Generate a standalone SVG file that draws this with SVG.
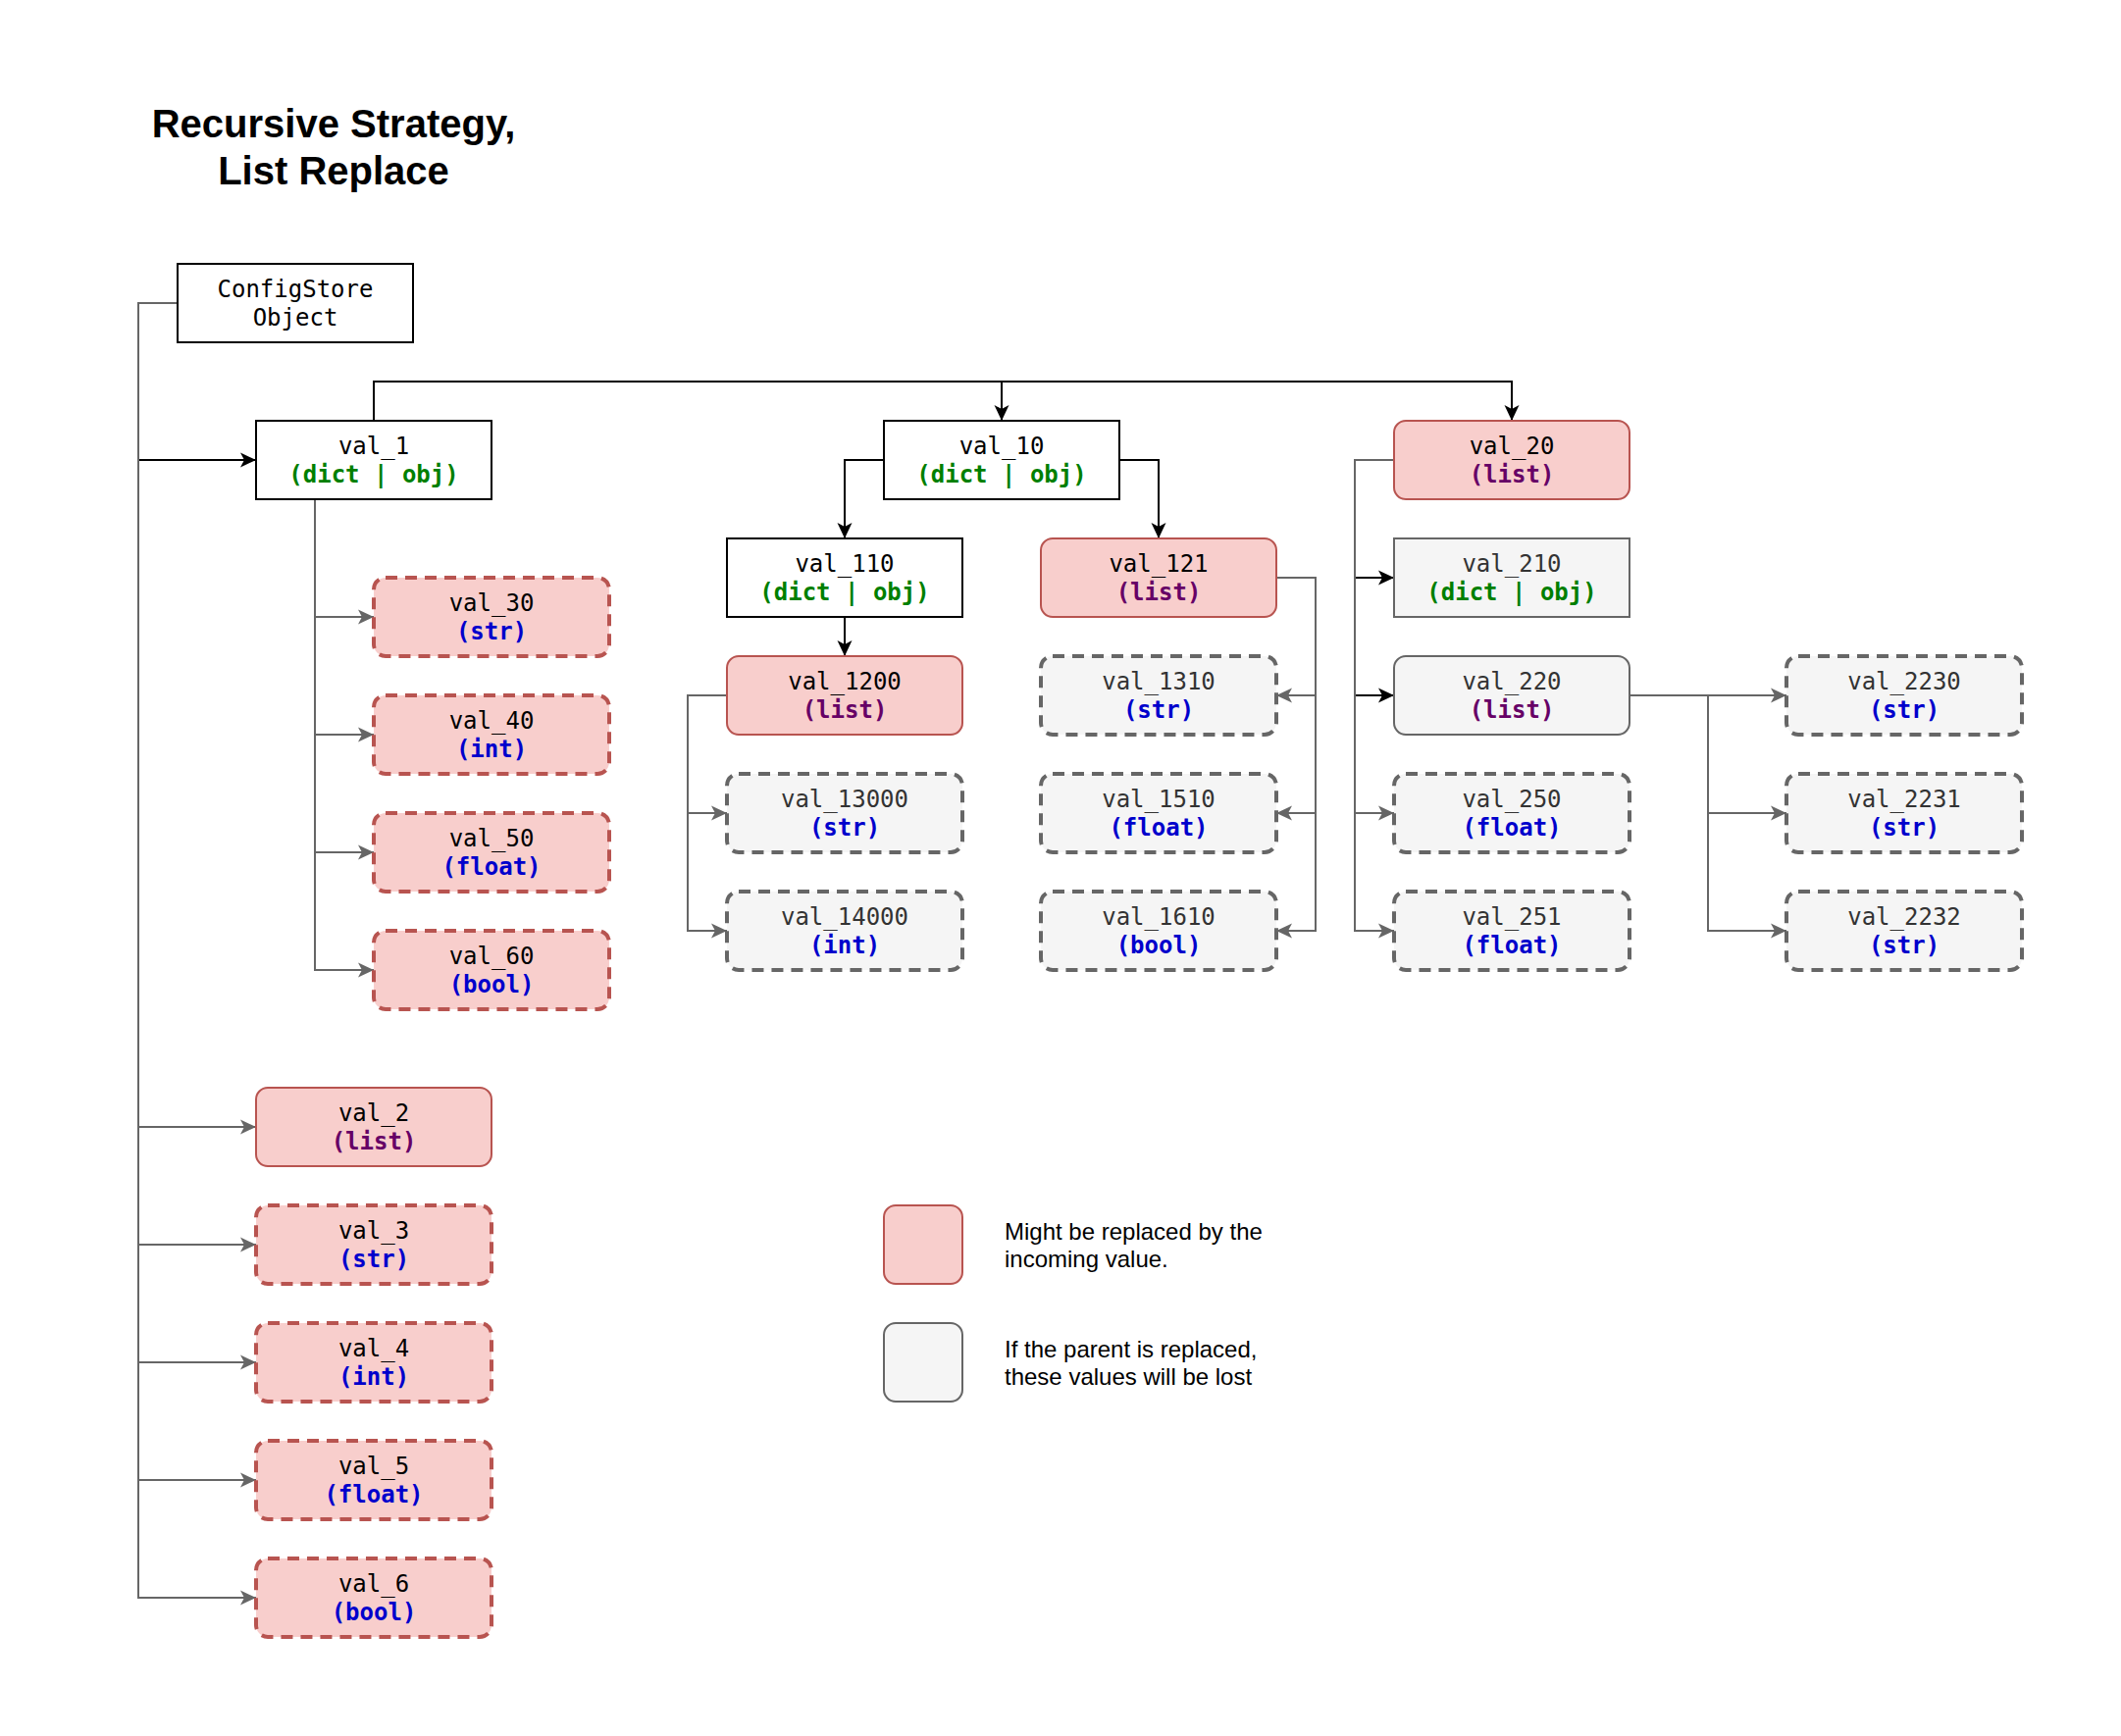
<svg xmlns="http://www.w3.org/2000/svg" width="2162" height="1770" viewBox="0 0 2162 1770">
  <style>
    .title { font-family: "Liberation Sans", Arial, sans-serif; font-size: 40px; font-weight: bold; fill: #000; text-anchor: middle; }
    .legend { font-family: "Liberation Sans", Arial, sans-serif; font-size: 24px; fill: #000; }
    .lbl { font-family: "DejaVu Sans Mono", monospace; font-size: 24px; text-anchor: middle; }
    .name { fill: #000; }
    .name-g { fill: #333333; }
    .t-dict { fill: #007f00; font-weight: bold; }
    .t-list { fill: #660066; font-weight: bold; }
    .t-val { fill: #0000cc; font-weight: bold; }
    .plain { fill: #ffffff; stroke: #000; stroke-width: 2; }
    .red { fill: #f8cecc; stroke: #b85450; stroke-width: 2; }
    .red-dash { fill: #f8cecc; stroke: #b85450; stroke-width: 4; stroke-dasharray: 12 8; }
    .grey { fill: #f5f5f5; stroke: #666666; stroke-width: 2; }
    .grey-dash { fill: #f5f5f5; stroke: #666666; stroke-width: 4; stroke-dasharray: 12 8; }
    .e-black { fill: none; stroke: #000; stroke-width: 2; }
    .e-grey { fill: none; stroke: #666666; stroke-width: 2; }
    .e-black.arr { marker-end: url(#arrow-black); }
    .e-grey.arr { marker-end: url(#arrow-grey); }
  </style>
  <defs>
    <marker id="arrow-black" markerUnits="userSpaceOnUse" viewBox="-17 -9 18 18" markerWidth="18" markerHeight="18" refX="0" refY="0" orient="auto">
      <path d="M0,0 L-16,-7.5 L-12,0 L-16,7.5 Z" fill="#000"/>
    </marker>
    <marker id="arrow-grey" markerUnits="userSpaceOnUse" viewBox="-17 -9 18 18" markerWidth="18" markerHeight="18" refX="0" refY="0" orient="auto">
      <path d="M0,0 L-16,-7.5 L-12,0 L-16,7.5 Z" fill="#666666"/>
    </marker>
  </defs>

  <rect x="0" y="0" width="2162" height="1770" fill="#ffffff"/>

  <text class="title" x="340" y="140">Recursive Strategy,</text>
  <text class="title" x="340" y="188">List Replace</text>

  <!-- connectors -->
  <g id="connectors">
    <!-- black edges -->
    <path class="e-black arr" d="M141,469 H261"/>
    <path class="e-black arr" d="M381,429 V389 H1541 V429"/>
    <path class="e-black arr" d="M1021,389 V429"/>
    <path class="e-black arr" d="M901,469 H861 V549"/>
    <path class="e-black arr" d="M1141,469 H1181 V549"/>
    <path class="e-black arr" d="M861,629 V669"/>
    <path class="e-black arr" d="M1381,589 H1421"/>
    <path class="e-black arr" d="M1381,709 H1421"/>

    <!-- ConfigStore trunk -->
    <path class="e-grey arr" d="M181,309 H141 V1629 H261"/>
    <path class="e-grey arr" d="M141,1149 H261"/>
    <path class="e-grey arr" d="M141,1269 H261"/>
    <path class="e-grey arr" d="M141,1389 H261"/>
    <path class="e-grey arr" d="M141,1509 H261"/>

    <!-- val_1 children -->
    <path class="e-grey arr" d="M321,509 V989 H381"/>
    <path class="e-grey arr" d="M321,629 H381"/>
    <path class="e-grey arr" d="M321,749 H381"/>
    <path class="e-grey arr" d="M321,869 H381"/>

    <!-- val_1200 children -->
    <path class="e-grey arr" d="M741,709 H701 V949 H741"/>
    <path class="e-grey arr" d="M701,829 H741"/>

    <!-- val_121 children -->
    <path class="e-grey arr" d="M1301,589 H1341 V949 H1301"/>
    <path class="e-grey arr" d="M1341,709 H1301"/>
    <path class="e-grey arr" d="M1341,829 H1301"/>

    <!-- val_20 children -->
    <path class="e-grey arr" d="M1421,469 H1381 V949 H1421"/>
    <path class="e-grey arr" d="M1381,829 H1421"/>

    <!-- val_220 children -->
    <path class="e-grey arr" d="M1661,709 H1821"/>
    <path class="e-grey arr" d="M1741,709 V949 H1821"/>
    <path class="e-grey arr" d="M1741,829 H1821"/>
  </g>

  <!-- nodes -->
  <g id="configstore">
    <rect class="plain" x="181" y="269" width="240" height="80"/>
    <text class="lbl name" x="301" y="303">ConfigStore</text>
    <text class="lbl name" x="301" y="332">Object</text>
  </g>

  <g id="val_1">
    <rect class="plain" x="261" y="429" width="240" height="80"/>
    <text class="lbl name" x="381" y="463">val_1</text>
    <text class="lbl t-dict" x="381" y="492">(dict | obj)</text>
  </g>
  <g id="val_10">
    <rect class="plain" x="901" y="429" width="240" height="80"/>
    <text class="lbl name" x="1021" y="463">val_10</text>
    <text class="lbl t-dict" x="1021" y="492">(dict | obj)</text>
  </g>
  <g id="val_20">
    <rect class="red" x="1421" y="429" width="240" height="80" rx="12"/>
    <text class="lbl name" x="1541" y="463">val_20</text>
    <text class="lbl t-list" x="1541" y="492">(list)</text>
  </g>

  <g id="val_30">
    <rect class="red-dash" x="381" y="589" width="240" height="80" rx="12"/>
    <text class="lbl name" x="501" y="623">val_30</text>
    <text class="lbl t-val" x="501" y="652">(str)</text>
  </g>
  <g id="val_40">
    <rect class="red-dash" x="381" y="709" width="240" height="80" rx="12"/>
    <text class="lbl name" x="501" y="743">val_40</text>
    <text class="lbl t-val" x="501" y="772">(int)</text>
  </g>
  <g id="val_50">
    <rect class="red-dash" x="381" y="829" width="240" height="80" rx="12"/>
    <text class="lbl name" x="501" y="863">val_50</text>
    <text class="lbl t-val" x="501" y="892">(float)</text>
  </g>
  <g id="val_60">
    <rect class="red-dash" x="381" y="949" width="240" height="80" rx="12"/>
    <text class="lbl name" x="501" y="983">val_60</text>
    <text class="lbl t-val" x="501" y="1012">(bool)</text>
  </g>

  <g id="val_110">
    <rect class="plain" x="741" y="549" width="240" height="80"/>
    <text class="lbl name" x="861" y="583">val_110</text>
    <text class="lbl t-dict" x="861" y="612">(dict | obj)</text>
  </g>
  <g id="val_1200">
    <rect class="red" x="741" y="669" width="240" height="80" rx="12"/>
    <text class="lbl name" x="861" y="703">val_1200</text>
    <text class="lbl t-list" x="861" y="732">(list)</text>
  </g>
  <g id="val_13000">
    <rect class="grey-dash" x="741" y="789" width="240" height="80" rx="12"/>
    <text class="lbl name-g" x="861" y="823">val_13000</text>
    <text class="lbl t-val" x="861" y="852">(str)</text>
  </g>
  <g id="val_14000">
    <rect class="grey-dash" x="741" y="909" width="240" height="80" rx="12"/>
    <text class="lbl name-g" x="861" y="943">val_14000</text>
    <text class="lbl t-val" x="861" y="972">(int)</text>
  </g>

  <g id="val_121">
    <rect class="red" x="1061" y="549" width="240" height="80" rx="12"/>
    <text class="lbl name" x="1181" y="583">val_121</text>
    <text class="lbl t-list" x="1181" y="612">(list)</text>
  </g>
  <g id="val_1310">
    <rect class="grey-dash" x="1061" y="669" width="240" height="80" rx="12"/>
    <text class="lbl name-g" x="1181" y="703">val_1310</text>
    <text class="lbl t-val" x="1181" y="732">(str)</text>
  </g>
  <g id="val_1510">
    <rect class="grey-dash" x="1061" y="789" width="240" height="80" rx="12"/>
    <text class="lbl name-g" x="1181" y="823">val_1510</text>
    <text class="lbl t-val" x="1181" y="852">(float)</text>
  </g>
  <g id="val_1610">
    <rect class="grey-dash" x="1061" y="909" width="240" height="80" rx="12"/>
    <text class="lbl name-g" x="1181" y="943">val_1610</text>
    <text class="lbl t-val" x="1181" y="972">(bool)</text>
  </g>

  <g id="val_210">
    <rect class="grey" x="1421" y="549" width="240" height="80"/>
    <text class="lbl name-g" x="1541" y="583">val_210</text>
    <text class="lbl t-dict" x="1541" y="612">(dict | obj)</text>
  </g>
  <g id="val_220">
    <rect class="grey" x="1421" y="669" width="240" height="80" rx="12"/>
    <text class="lbl name-g" x="1541" y="703">val_220</text>
    <text class="lbl t-list" x="1541" y="732">(list)</text>
  </g>
  <g id="val_250">
    <rect class="grey-dash" x="1421" y="789" width="240" height="80" rx="12"/>
    <text class="lbl name-g" x="1541" y="823">val_250</text>
    <text class="lbl t-val" x="1541" y="852">(float)</text>
  </g>
  <g id="val_251">
    <rect class="grey-dash" x="1421" y="909" width="240" height="80" rx="12"/>
    <text class="lbl name-g" x="1541" y="943">val_251</text>
    <text class="lbl t-val" x="1541" y="972">(float)</text>
  </g>

  <g id="val_2230">
    <rect class="grey-dash" x="1821" y="669" width="240" height="80" rx="12"/>
    <text class="lbl name-g" x="1941" y="703">val_2230</text>
    <text class="lbl t-val" x="1941" y="732">(str)</text>
  </g>
  <g id="val_2231">
    <rect class="grey-dash" x="1821" y="789" width="240" height="80" rx="12"/>
    <text class="lbl name-g" x="1941" y="823">val_2231</text>
    <text class="lbl t-val" x="1941" y="852">(str)</text>
  </g>
  <g id="val_2232">
    <rect class="grey-dash" x="1821" y="909" width="240" height="80" rx="12"/>
    <text class="lbl name-g" x="1941" y="943">val_2232</text>
    <text class="lbl t-val" x="1941" y="972">(str)</text>
  </g>

  <g id="val_2">
    <rect class="red" x="261" y="1109" width="240" height="80" rx="12"/>
    <text class="lbl name" x="381" y="1143">val_2</text>
    <text class="lbl t-list" x="381" y="1172">(list)</text>
  </g>
  <g id="val_3">
    <rect class="red-dash" x="261" y="1229" width="240" height="80" rx="12"/>
    <text class="lbl name" x="381" y="1263">val_3</text>
    <text class="lbl t-val" x="381" y="1292">(str)</text>
  </g>
  <g id="val_4">
    <rect class="red-dash" x="261" y="1349" width="240" height="80" rx="12"/>
    <text class="lbl name" x="381" y="1383">val_4</text>
    <text class="lbl t-val" x="381" y="1412">(int)</text>
  </g>
  <g id="val_5">
    <rect class="red-dash" x="261" y="1469" width="240" height="80" rx="12"/>
    <text class="lbl name" x="381" y="1503">val_5</text>
    <text class="lbl t-val" x="381" y="1532">(float)</text>
  </g>
  <g id="val_6">
    <rect class="red-dash" x="261" y="1589" width="240" height="80" rx="12"/>
    <text class="lbl name" x="381" y="1623">val_6</text>
    <text class="lbl t-val" x="381" y="1652">(bool)</text>
  </g>

  <!-- legend -->
  <g id="legend-replaced">
    <rect class="red" x="901" y="1229" width="80" height="80" rx="12"/>
    <text class="legend" x="1024" y="1264">Might be replaced by the</text>
    <text class="legend" x="1024" y="1292">incoming value.</text>
  </g>
  <g id="legend-lost">
    <rect class="grey" x="901" y="1349" width="80" height="80" rx="12"/>
    <text class="legend" x="1024" y="1384">If the parent is replaced,</text>
    <text class="legend" x="1024" y="1412">these values will be lost</text>
  </g>
</svg>
